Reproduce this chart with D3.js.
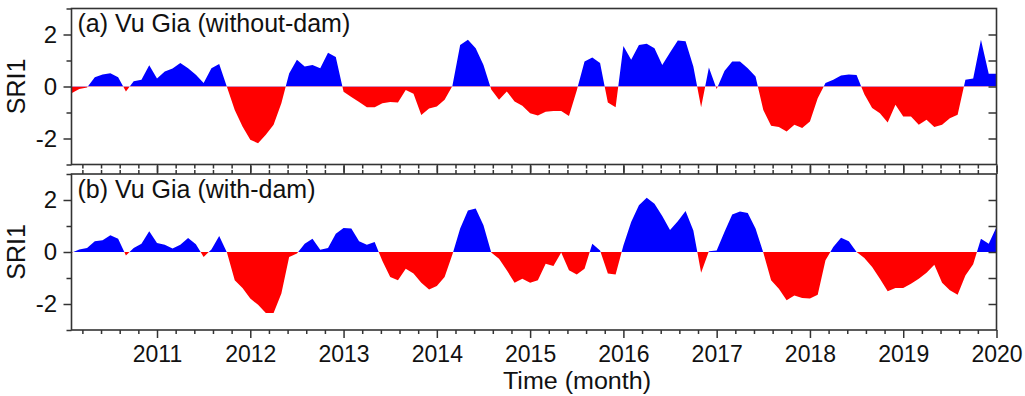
<!DOCTYPE html>
<html>
<head>
<meta charset="utf-8">
<script src="https://cdn.jsdelivr.net/npm/d3@7"></script>
<style>
  body { margin: 0; background: #fff; }
  text { font-family: "Liberation Sans", Arial, sans-serif; fill: #111; }
</style>
</head>
<body>
<svg id="chart" width="1025" height="396"></svg>
<script>
// monthly SRI1 values, Jan 2010 .. Dec 2019
const startYear = 2010;
const sriWithoutDam = [
  -0.26, -0.1, -0.04, 0.36, 0.46, 0.51, 0.36, -0.19, 0.2, 0.26, 0.82, 0.31,
  0.58, 0.69, 0.9, 0.7, 0.45, 0.13, 0.7, 0.87, -0.02, -0.9, -1.54, -2.05,
  -2.18, -1.86, -1.47, -0.64, 0.5, 1.03, 0.77, 0.83, 0.7, 1.3, 1.13, -0.2,
  -0.4, -0.6, -0.8, -0.8, -0.64, -0.6, -0.62, -0.13, -0.28, -1.1, -0.85, -0.77,
  -0.51, 0.02, 1.6, 1.8, 1.47, 0.83, -0.12, -0.51, -0.19, -0.58, -0.74, -1.03,
  -1.12, -0.97, -0.94, -0.94, -1.13, -0.15, 0.96, 1.12, 0.9, -0.62, -0.8, 1.56,
  1.03, 1.6, 1.64, 1.47, 0.83, 1.31, 1.77, 1.74, 0.77, -0.8, 0.73, -0.1,
  0.6, 0.96, 0.96, 0.7, 0.38, -0.9, -1.51, -1.56, -1.73, -1.47, -1.6, -1.35,
  -0.45, 0.13, 0.26, 0.42, 0.46, 0.44, -0.3, -0.83, -1.03, -1.38, -0.7, -1.15,
  -1.15, -1.47, -1.28, -1.56, -1.47, -1.22, -1.09, 0.26, 0.31, 1.8, 0.49, 0.49
];
const sriWithDam = [
  -0.03, 0.1, 0.15, 0.41, 0.45, 0.64, 0.51, -0.13, 0.15, 0.32, 0.8, 0.35,
  0.28, 0.13, 0.28, 0.54, 0.3, -0.19, 0.1, 0.62, -0.02, -1.09, -1.38, -1.79,
  -2.03, -2.35, -2.35, -1.6, -0.19, -0.06, 0.32, 0.51, 0.09, 0.15, 0.7, 0.92,
  0.9, 0.41, 0.28, 0.38, -0.35, -0.96, -1.09, -0.64, -0.83, -1.18, -1.44, -1.31,
  -0.96, -0.1, 0.9, 1.6, 1.67, 1.03, -0.02, -0.26, -0.7, -1.18, -1.03, -1.18,
  -1.09, -0.45, -0.54, -0.02, -0.7, -0.87, -0.64, 0.32, 0.06, -0.83, -0.87, 0.25,
  1.15, 1.8, 2.09, 1.86, 1.38, 0.85, 1.18, 1.58, 0.83, -0.8, 0.03, 0.06,
  0.77, 1.44, 1.56, 1.5, 0.9, -0.02, -1.09, -1.41, -1.86, -1.67, -1.77, -1.79,
  -1.64, -0.32, 0.19, 0.55, 0.41, 0.0, -0.23, -0.58, -1.03, -1.51, -1.38, -1.38,
  -1.22, -1.03, -0.8, -0.49, -1.18, -1.47, -1.64, -0.9, -0.47, 0.51, 0.32, 0.96
];
const panelTitles = ['(a) Vu Gia (without-dam)', '(b) Vu Gia (with-dam)'];
const yearTicks = [2011, 2012, 2013, 2014, 2015, 2016, 2017, 2018, 2019, 2020];
const yMajor = [-2, 0, 2];
const yMinor = [-3, -1, 1, 3];
const yRight = [-2, -1, 0, 1, 2];

const left = 71.5, right = 996.5;
const panels = [
  { top: 8.5, bottom: 164.5, values: sriWithoutDam, title: panelTitles[0] },
  { top: 174, bottom: 330, values: sriWithDam, title: panelTitles[1] }
];

const months = sriWithoutDam.map((d, i) => startYear + (i + 1) / 12);
const x = d3.scaleLinear()
  .domain([months[0], months[months.length - 1]])
  .range([left, right]);

// minor x ticks every 0.2 year
const xMinor = d3.range(1, 50).map(k => 2010 + k * 0.2)
  .filter(v => Math.abs(v - Math.round(v)) > 0.01);

const svg = d3.select('#chart');

panels.forEach((p, pi) => {
  const y = d3.scaleLinear().domain([-3, 3]).range([p.bottom, p.top]);
  const g = svg.append('g');
  const id = 'p' + pi;

  // clip regions above / below zero
  const defs = g.append('defs');
  defs.append('clipPath').attr('id', id + 'pos')
    .append('rect').attr('x', left).attr('y', p.top)
    .attr('width', right - left).attr('height', y(0) - p.top);
  defs.append('clipPath').attr('id', id + 'neg')
    .append('rect').attr('x', left).attr('y', y(0))
    .attr('width', right - left).attr('height', p.bottom - y(0));

  const area = d3.area()
    .x((d, i) => x(months[i]))
    .y0(y(0))
    .y1(d => y(d));

  g.append('path').datum(p.values)
    .attr('d', area)
    .attr('fill', '#0000ff')
    .attr('clip-path', `url(#${id}pos)`);
  g.append('path').datum(p.values)
    .attr('d', area)
    .attr('fill', '#ff0000')
    .attr('clip-path', `url(#${id}neg)`);

  // left axis
  g.append('g')
    .attr('transform', `translate(${left},0)`)
    .call(d3.axisLeft(y).tickValues(yMajor).tickSize(8).tickPadding(6.5).tickFormat(d => String(d)))
    .call(a => a.select('.domain').remove())
    .call(a => a.selectAll('text').style('font-size', '24px').style('font-family', '"Liberation Sans", Arial, sans-serif').attr('fill', '#111'));
  g.append('g')
    .attr('transform', `translate(${left},0)`)
    .call(d3.axisLeft(y).tickValues(yMinor).tickSize(5).tickFormat(''))
    .call(a => a.select('.domain').remove());

  // right axis, ticks pointing inward
  g.append('g')
    .attr('transform', `translate(${right},0)`)
    .call(d3.axisLeft(y).tickValues(yRight).tickSize(8).tickFormat(''))
    .call(a => a.select('.domain').remove());

  // bottom axis
  const bx = g.append('g')
    .attr('transform', `translate(0,${p.bottom})`)
    .call(d3.axisBottom(x).tickValues(yearTicks).tickSize(8).tickPadding(7.2)
      .tickFormat(pi === 1 ? d3.format('d') : ''))
    .call(a => a.select('.domain').remove());
  bx.selectAll('text').style('font-size', '23px').style('font-family', '"Liberation Sans", Arial, sans-serif').attr('fill', '#111');
  g.append('g')
    .attr('transform', `translate(0,${p.bottom})`)
    .call(d3.axisBottom(x).tickValues(xMinor).tickSize(4).tickFormat(''))
    .call(a => a.select('.domain').remove());

  // lower panel also has outward ticks on top
  if (pi === 1) {
    g.append('g')
      .attr('transform', `translate(0,${p.top})`)
      .call(d3.axisTop(x).tickValues(yearTicks).tickSize(8).tickFormat(''))
      .call(a => a.select('.domain').remove());
    g.append('g')
      .attr('transform', `translate(0,${p.top})`)
      .call(d3.axisTop(x).tickValues(xMinor).tickSize(4).tickFormat(''))
      .call(a => a.select('.domain').remove());
  }

  g.selectAll('.tick line').attr('stroke', '#333').attr('stroke-width', 1.5);

  // frame
  g.append('rect')
    .attr('x', left).attr('y', p.top)
    .attr('width', right - left).attr('height', p.bottom - p.top)
    .attr('fill', 'none').attr('stroke', '#333').attr('stroke-width', 1.6);

  g.append('text')
    .attr('x', 77.5).attr('y', p.top + 23.5)
    .style('font-size', '25px')
    .text(p.title);

  g.append('text')
    .attr('transform', `translate(25,${(p.top + p.bottom) / 2}) rotate(-90)`)
    .attr('text-anchor', 'middle')
    .style('font-size', '25px')
    .text('SRI1');
});

svg.append('text')
  .attr('x', 577).attr('y', 388.5)
  .attr('text-anchor', 'middle')
  .attr('textLength', 148)
  .attr('lengthAdjust', 'spacingAndGlyphs')
  .style('font-size', '23.5px')
  .text('Time (month)');
</script>
</body>
</html>
